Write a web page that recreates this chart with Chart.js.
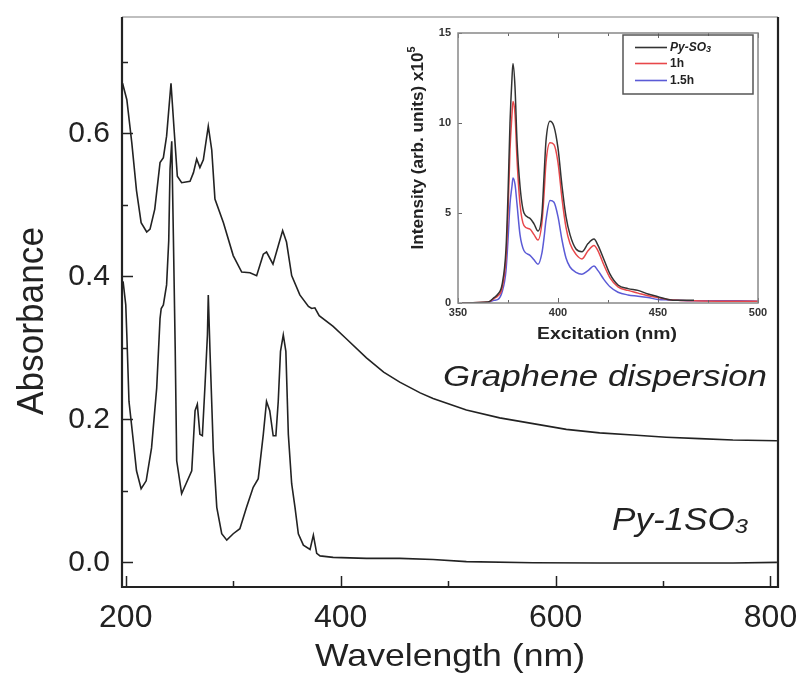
<!DOCTYPE html>
<html>
<head>
<meta charset="utf-8">
<script src="https://cdn.jsdelivr.net/npm/chart.js@4/dist/chart.umd.min.js"></script>
<style>
  body { margin: 0; background: #fff; }
  #wrap { position: relative; width: 800px; height: 673px; }
  #main { position: absolute; left: 0; top: 0; }
  #inset { position: absolute; left: 400px; top: 20px; }
</style>
</head>
<body>
<div id="wrap">
  <canvas id="main" width="800" height="673"></canvas>
  <canvas id="inset" width="370" height="325"></canvas>
</div>
<script>
// main absorbance spectra (wavelength nm, absorbance)
const grapheneWl = [197, 201, 205.6, 210, 214.3, 219.5, 222.6, 227, 231.9, 235, 238, 242.1, 245, 248, 252, 259.8, 263, 266, 269, 272.2, 276.8, 280, 283, 290.9, 300, 307.9, 315.6, 321.8, 328, 331, 337, 342, 346, 349.6, 354.4, 362, 370, 373, 376, 380, 393, 405, 424, 440, 455, 474, 486, 517, 548, 579, 610, 641, 672, 703, 734, 765, 806];
const grapheneAbs = [0.67, 0.647, 0.587, 0.52, 0.475, 0.462, 0.466, 0.494, 0.559, 0.566, 0.596, 0.67, 0.605, 0.54, 0.531, 0.533, 0.545, 0.564, 0.552, 0.563, 0.61, 0.577, 0.508, 0.475, 0.429, 0.406, 0.405, 0.401, 0.431, 0.434, 0.417, 0.443, 0.464, 0.448, 0.401, 0.374, 0.358, 0.355, 0.356, 0.345, 0.33, 0.313, 0.286, 0.266, 0.252, 0.237, 0.229, 0.213, 0.202, 0.194, 0.186, 0.181, 0.178, 0.175, 0.173, 0.171, 0.170];

const pyWl = [197.5, 200, 201, 203, 207, 210, 214.3, 219, 224, 228.8, 231.9, 233, 235, 238, 240, 241.2, 242.8, 244.3, 246, 247.4, 252, 256.7, 261.4, 264.5, 266.6, 269, 271.3, 273.8, 276, 276.8, 278.4, 281.5, 284.7, 289.3, 294, 300, 306.2, 312.4, 318.6, 323.3, 328, 331, 334, 337.2, 339.7, 341.9, 344, 346.6, 349, 351.3, 354.4, 357.5, 360.6, 365.3, 371.5, 374.6, 377.7, 380.8, 393, 424, 455, 486, 517, 579, 641, 703, 765, 806];
const pyAbs = [0.393, 0.36, 0.318, 0.225, 0.17, 0.128, 0.103, 0.114, 0.16, 0.244, 0.341, 0.355, 0.36, 0.388, 0.45, 0.55, 0.589, 0.457, 0.3, 0.142, 0.096, 0.112, 0.128, 0.212, 0.221, 0.179, 0.177, 0.249, 0.318, 0.374, 0.295, 0.156, 0.077, 0.04, 0.031, 0.04, 0.047, 0.077, 0.105, 0.117, 0.179, 0.225, 0.212, 0.177, 0.177, 0.225, 0.295, 0.318, 0.295, 0.179, 0.11, 0.077, 0.04, 0.024, 0.018, 0.038, 0.0125, 0.009, 0.007, 0.0055, 0.0055, 0.004, 0.001, -0.0005, -0.001, -0.001, -0.001, 0];

// inset excitation spectra (x10^5)
const insetWl = [352, 365, 368, 370, 372, 374, 375, 376, 377, 377.5, 378.5, 379.5, 381, 383, 386, 388, 390, 392, 393, 394, 396, 398, 400, 402, 404, 406, 409, 412, 415, 418, 420, 423, 426, 430, 435, 440, 445, 450, 455, 460, 468, 480, 490, 500];
const pySO3 = [0, 0.05, 0.3, 0.5, 1.0, 3, 6, 10, 12.5, 13.3, 12, 9, 6.5, 5, 4.7, 4.4, 4.0, 5, 7, 9, 10.1, 9.8, 8.6, 6.5, 4.8, 3.8, 3.0, 2.85, 3.3, 3.55, 3.2, 2.4, 1.6, 1.0, 0.8, 0.7, 0.5, 0.35, 0.2, 0.15, 0.15];
const oneHour = [0, 0.05, 0.25, 0.4, 0.8, 2.5, 5, 8.5, 10.5, 11.2, 10.5, 8, 5.5, 4.3, 4.1, 3.8, 3.5, 4.5, 6, 7.8, 8.9, 8.8, 7.8, 5.8, 4.2, 3.3, 2.7, 2.45, 2.9, 3.2, 2.9, 2.1, 1.4, 0.9, 0.7, 0.55, 0.4, 0.3, 0.2, 0.15, 0.12, 0.1, 0.1, 0.1];
const oneHalfHour = [0, 0.02, 0.15, 0.2, 0.6, 1.8, 3.5, 5.5, 6.5, 6.95, 6.6, 5.5, 3.8, 2.9, 2.65, 2.4, 2.15, 2.8, 3.6, 4.6, 5.7, 5.6, 4.8, 3.5, 2.5, 2.0, 1.7, 1.6, 1.8, 2.05, 1.8, 1.3, 0.9, 0.6, 0.45, 0.38, 0.3, 0.2, 0.17, 0.15, 0.12, 0.12, 0.12, 0.1];
const insetLabels = ['Py-SO', '1h', '1.5h'];
const insetColors = ['#333333', '#e8474a', '#5b5bd6'];

const FONT = "'Liberation Sans', Arial, sans-serif";
const toPts = (xs, ys) => ys.map((y, i) => ({ x: xs[i], y: y }));

// draws text runs centred on cx, squeezed/stretched to a given width
function drawRuns(ctx, runs, cx, baseY, targetW, rotate) {
  ctx.save();
  ctx.translate(cx, baseY);
  if (rotate) ctx.rotate(-Math.PI / 2);
  let total = 0;
  runs.forEach(r => { ctx.font = r.font; r.w = ctx.measureText(r.text).width; total += r.w; });
  ctx.scale(targetW ? targetW / total : 1, 1);
  ctx.textAlign = 'left';
  ctx.textBaseline = 'alphabetic';
  ctx.fillStyle = '#222';
  let x = -total / 2;
  runs.forEach(r => { ctx.font = r.font; ctx.fillText(r.text, x, r.dy || 0); x += r.w; });
  ctx.restore();
}

// keep the plot box where the layout padding puts it
const noPadX = h => s => { s.height = h; s.paddingLeft = 0; s.paddingRight = 0; };
const noPadY = w => s => { s.width = w; s.paddingTop = 0; s.paddingBottom = 0; };

const mainDeco = {
  id: 'mainDeco',
  afterDraw(chart) {
    const ctx = chart.ctx, a = chart.chartArea;
    const xs = chart.scales.x, ys = chart.scales.y;
    ctx.save();
    ctx.strokeStyle = '#222';
    ctx.lineWidth = 1.5;
    xs.ticks.forEach(t => {
      const px = Math.round(xs.getPixelForValue(t.value)) + 0.5;
      const len = t.value % 200 === 0 ? 11 : 6;
      ctx.beginPath(); ctx.moveTo(px, a.bottom); ctx.lineTo(px, a.bottom - len); ctx.stroke();
    });
    ys.ticks.forEach(t => {
      const py = Math.round(ys.getPixelForValue(t.value)) + 0.5;
      const len = Math.round(t.value * 10) % 2 === 0 ? 11 : 6;
      ctx.beginPath(); ctx.moveTo(a.left, py); ctx.lineTo(a.left + len, py); ctx.stroke();
    });
    // frame
    ctx.strokeStyle = '#aaa';
    ctx.lineWidth = 1.5;
    ctx.beginPath(); ctx.moveTo(a.left, a.top); ctx.lineTo(a.right, a.top); ctx.stroke();
    ctx.strokeStyle = '#222';
    ctx.lineWidth = 2.2;
    ctx.beginPath();
    ctx.moveTo(a.left, a.top); ctx.lineTo(a.left, a.bottom); ctx.lineTo(a.right, a.bottom); ctx.lineTo(a.right, a.top);
    ctx.stroke();
    ctx.restore();

    drawRuns(ctx, [{ text: 'Wavelength (nm)', font: '32px ' + FONT }], 450, 666, 270);
    drawRuns(ctx, [{ text: 'Absorbance', font: '37px ' + FONT }], 43, 321, 188, true);
    drawRuns(ctx, [{ text: 'Graphene dispersion', font: 'italic 30px ' + FONT }], 605, 386, 324);
    drawRuns(ctx, [{ text: 'Py-1SO', font: 'italic 31px ' + FONT }, { text: '3', font: 'italic 21px ' + FONT, dy: 3 }], 680, 530, 136);
  }
};

new Chart(document.getElementById('main'), {
  type: 'scatter',
  data: {
    datasets: [
      { label: 'Graphene dispersion', data: toPts(grapheneWl, grapheneAbs), showLine: true, borderColor: '#222', borderWidth: 1.6, pointRadius: 0, tension: 0 },
      { label: 'Py-1SO3', data: toPts(pyWl, pyAbs), showLine: true, borderColor: '#222', borderWidth: 1.6, pointRadius: 0, tension: 0 }
    ]
  },
  options: {
    responsive: false,
    animation: false,
    layout: { padding: { left: 0, right: 22, top: 17, bottom: 0 } },
    plugins: { legend: { display: false }, tooltip: { enabled: false } },
    scales: {
      x: {
        type: 'linear', min: 196.5, max: 807,
        afterFit: noPadX(86),
        grid: { display: false, drawTicks: false },
        border: { display: false },
        ticks: {
          stepSize: 100, includeBounds: false, autoSkip: false, maxRotation: 0, padding: 12,
          color: '#222', font: { family: FONT, size: 32 },
          callback: v => (v % 200 === 0 ? String(v) : '')
        }
      },
      y: {
        min: -0.0345, max: 0.7627,
        afterFit: noPadY(122),
        grid: { display: false, drawTicks: false },
        border: { display: false },
        ticks: {
          stepSize: 0.1, includeBounds: false, autoSkip: false, padding: 12,
          color: '#222', font: { family: FONT, size: 30 },
          callback: v => (Math.round(v * 10) % 2 === 0 ? v.toFixed(1) : '')
        }
      }
    }
  },
  plugins: [mainDeco]
});

const insetDeco = {
  id: 'insetDeco',
  afterDraw(chart) {
    const ctx = chart.ctx, a = chart.chartArea;
    const xs = chart.scales.x, ys = chart.scales.y;
    ctx.save();
    ctx.strokeStyle = '#666';
    ctx.lineWidth = 1;
    xs.ticks.forEach(t => {
      const px = Math.round(xs.getPixelForValue(t.value)) + 0.5;
      const len = t.value % 50 === 0 ? 5 : 3;
      ctx.beginPath(); ctx.moveTo(px, a.bottom); ctx.lineTo(px, a.bottom - len); ctx.stroke();
      ctx.beginPath(); ctx.moveTo(px, a.top); ctx.lineTo(px, a.top + len); ctx.stroke();
    });
    ys.ticks.forEach(t => {
      const py = Math.round(ys.getPixelForValue(t.value)) + 0.5;
      ctx.beginPath(); ctx.moveTo(a.left, py); ctx.lineTo(a.left + 4, py); ctx.stroke();
    });
    ctx.strokeStyle = '#888';
    ctx.lineWidth = 1.5;
    ctx.strokeRect(a.left, a.top, a.right - a.left, a.bottom - a.top);

    // legend box
    ctx.strokeStyle = '#555';
    ctx.lineWidth = 1.5;
    ctx.strokeRect(223, 15, 130, 59);
    const rows = [27.5, 43.5, 60.5];
    chart.data.datasets.forEach((ds, i) => {
      ctx.strokeStyle = ds.borderColor;
      ctx.lineWidth = 1.6;
      ctx.beginPath(); ctx.moveTo(235, rows[i]); ctx.lineTo(267, rows[i]); ctx.stroke();
      ctx.fillStyle = '#222';
      ctx.textBaseline = 'middle';
      ctx.textAlign = 'left';
      if (i === 0) {
        ctx.font = 'italic bold 12px ' + FONT;
        ctx.fillText(insetLabels[i], 270, rows[i]);
        const w = ctx.measureText(insetLabels[i]).width;
        ctx.font = 'italic bold 9px ' + FONT;
        ctx.fillText('3', 270 + w, rows[i] + 2);
      } else {
        ctx.font = 'bold 12px ' + FONT;
        ctx.fillText(insetLabels[i], 270, rows[i]);
      }
    });
    ctx.restore();

    drawRuns(ctx, [{ text: 'Excitation (nm)', font: 'bold 16px ' + FONT }], 207, 319, 140);
    drawRuns(ctx, [{ text: 'Intensity (arb. units) x10', font: 'bold 16px ' + FONT }, { text: '5', font: 'bold 10px ' + FONT, dy: -8 }], 23, 128, 203, true);
  }
};

const insetLine = (label, ys, color) => ({
  label: label, data: toPts(insetWl, ys), showLine: true, borderColor: color,
  borderWidth: 1.5, pointRadius: 0, cubicInterpolationMode: 'monotone'
});

new Chart(document.getElementById('inset'), {
  type: 'scatter',
  data: {
    datasets: [
      insetLine('Py-SO3', pySO3, insetColors[0]),
      insetLine('1h', oneHour, insetColors[1]),
      insetLine('1.5h', oneHalfHour, insetColors[2])
    ]
  },
  options: {
    responsive: false,
    animation: false,
    layout: { padding: { left: 0, right: 12, top: 13, bottom: 0 } },
    plugins: { legend: { display: false }, tooltip: { enabled: false } },
    scales: {
      x: {
        type: 'linear', min: 350, max: 500,
        afterFit: noPadX(42),
        grid: { display: false, drawTicks: false },
        border: { display: false },
        ticks: {
          stepSize: 25, autoSkip: false, maxRotation: 0, padding: 3,
          color: '#333', font: { family: FONT, size: 11, weight: 'bold' },
          callback: v => (v % 50 === 0 ? String(v) : '')
        }
      },
      y: {
        min: 0, max: 15,
        afterFit: noPadY(58),
        grid: { display: false, drawTicks: false },
        border: { display: false },
        ticks: {
          stepSize: 5, autoSkip: false, padding: 7,
          color: '#333', font: { family: FONT, size: 11, weight: 'bold' }
        }
      }
    }
  },
  plugins: [insetDeco]
});
</script>
</body>
</html>
